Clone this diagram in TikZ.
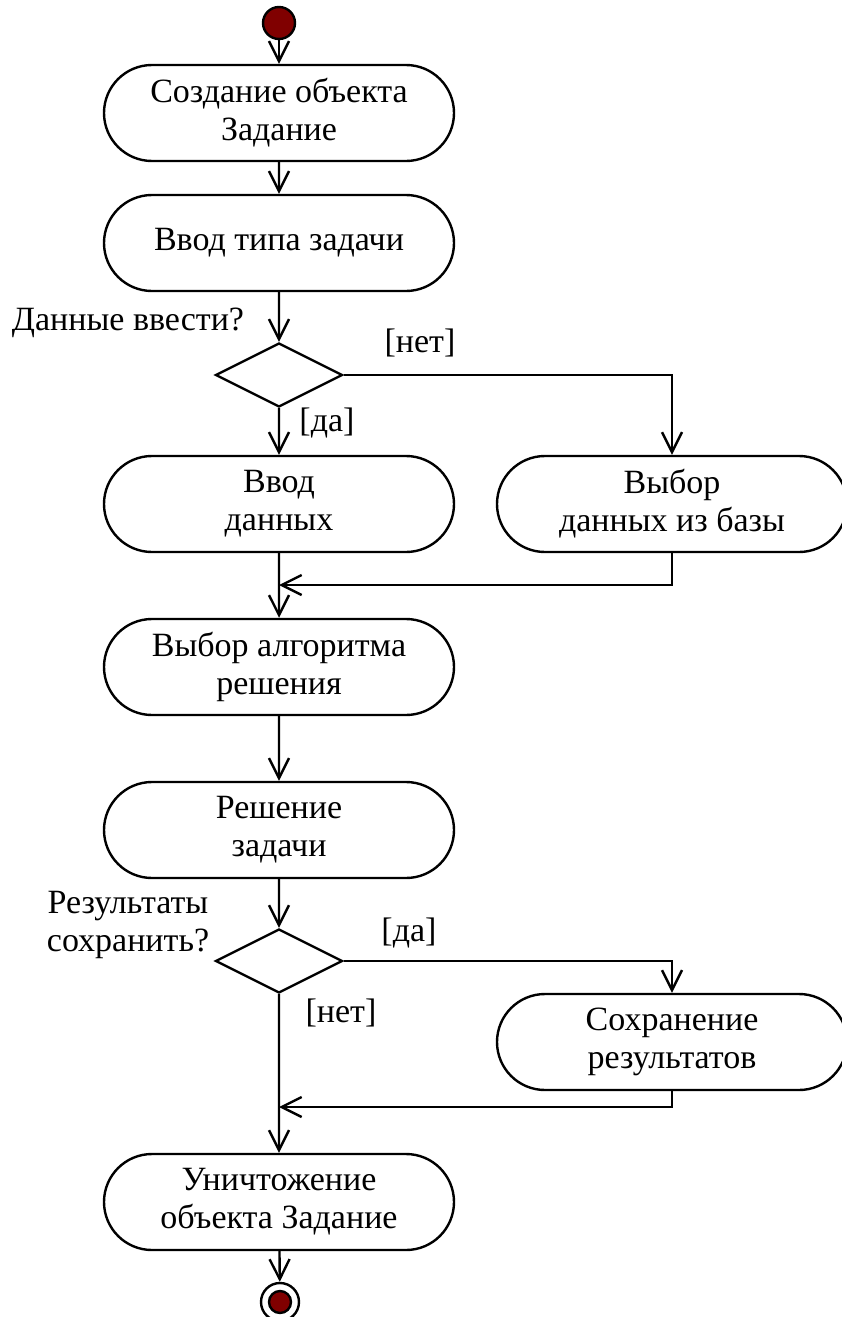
\documentclass[tikz,border=0pt]{standalone}
\usepackage{fontspec}
\setmainfont{Liberation Serif}
\usetikzlibrary{arrows.meta,shapes.misc,shapes.geometric}
\definecolor{dotred}{RGB}{128,0,0}

\begin{document}
\begin{tikzpicture}[x=.5pt,y=-.5pt,line width=1.2pt,
  act/.style={draw,rounded rectangle,minimum width=179pt,minimum height=48pt,
    inner sep=2pt,align=center,font=\fontsize{17}{19}\selectfont},
  cond/.style={draw,diamond,minimum width=63.5pt,minimum height=32pt,inner sep=0pt},
  guard/.style={font=\fontsize{17}{19}\selectfont,align=center,inner sep=0pt},
  flow/.style={-{Straight Barb[length=10pt,width=10pt]}}]
\useasboundingbox (0,0) rectangle (841,1317);
% start and stop
\node[circle,draw,fill=dotred,minimum size=16pt,inner sep=0pt] (start) at (279,23) {};
\node[circle,draw,minimum size=19pt,inner sep=0pt] (stop) at (280,1302) {};
\node[circle,fill=dotred,draw,minimum size=11pt,inner sep=0pt] (stopdot) at (stop) {};
% activities
\node[act] (create) at (279,113) {Создание объекта\\Задание};
\node[act] (tasktype) at (279,243) {Ввод типа задачи};
\node[cond] (askdata) at (279,375) {};
\node[act] (enter) at (279,504) {Ввод\\данных};
\node[act] (pick) at (672,504) {Выбор\\данных из базы};
\node[act] (algo) at (279,667) {Выбор алгоритма\\решения};
\node[act] (solve) at (279,830) {Решение\\задачи};
\node[cond] (asksave) at (279,961) {};
\node[act] (save) at (672,1042) {Сохранение\\результатов};
\node[act] (destroy) at (279,1202) {Уничтожение\\объекта Задание};
% guards
\node[guard] (q1) at (128,323) {Данные ввести?};
\node[guard] (no1) at (420,343) {[нет]};
\node[guard] (yes1) at (327,423) {[да]};
\node[guard] (q2) at (128,925) {Результаты\\сохранить?};
\node[guard] (yes2) at (409,933) {[да]};
\node[guard] (no2) at (341,1013) {[нет]};
\coordinate (join1) at (279,585);
\coordinate (join2) at (279,1107);
% flows
\draw[flow] (start) -- (create);
\draw[flow] (create) -- (tasktype);
\draw[flow] (tasktype) -- (askdata);
\draw[flow] (askdata) -- (enter);
\draw[flow] (askdata.east) -| (pick.north);
\draw[flow] (pick.south) |- (join1);
\draw[flow] (enter) -- (algo);
\draw[flow] (algo) -- (solve);
\draw[flow] (solve) -- (asksave);
\draw[flow] (asksave.east) -| (save.north);
\draw[flow] (save.south) |- (join2);
\draw[flow] (asksave) -- (destroy);
\draw[flow] (destroy) -- (stop);
\end{tikzpicture}
\end{document}
